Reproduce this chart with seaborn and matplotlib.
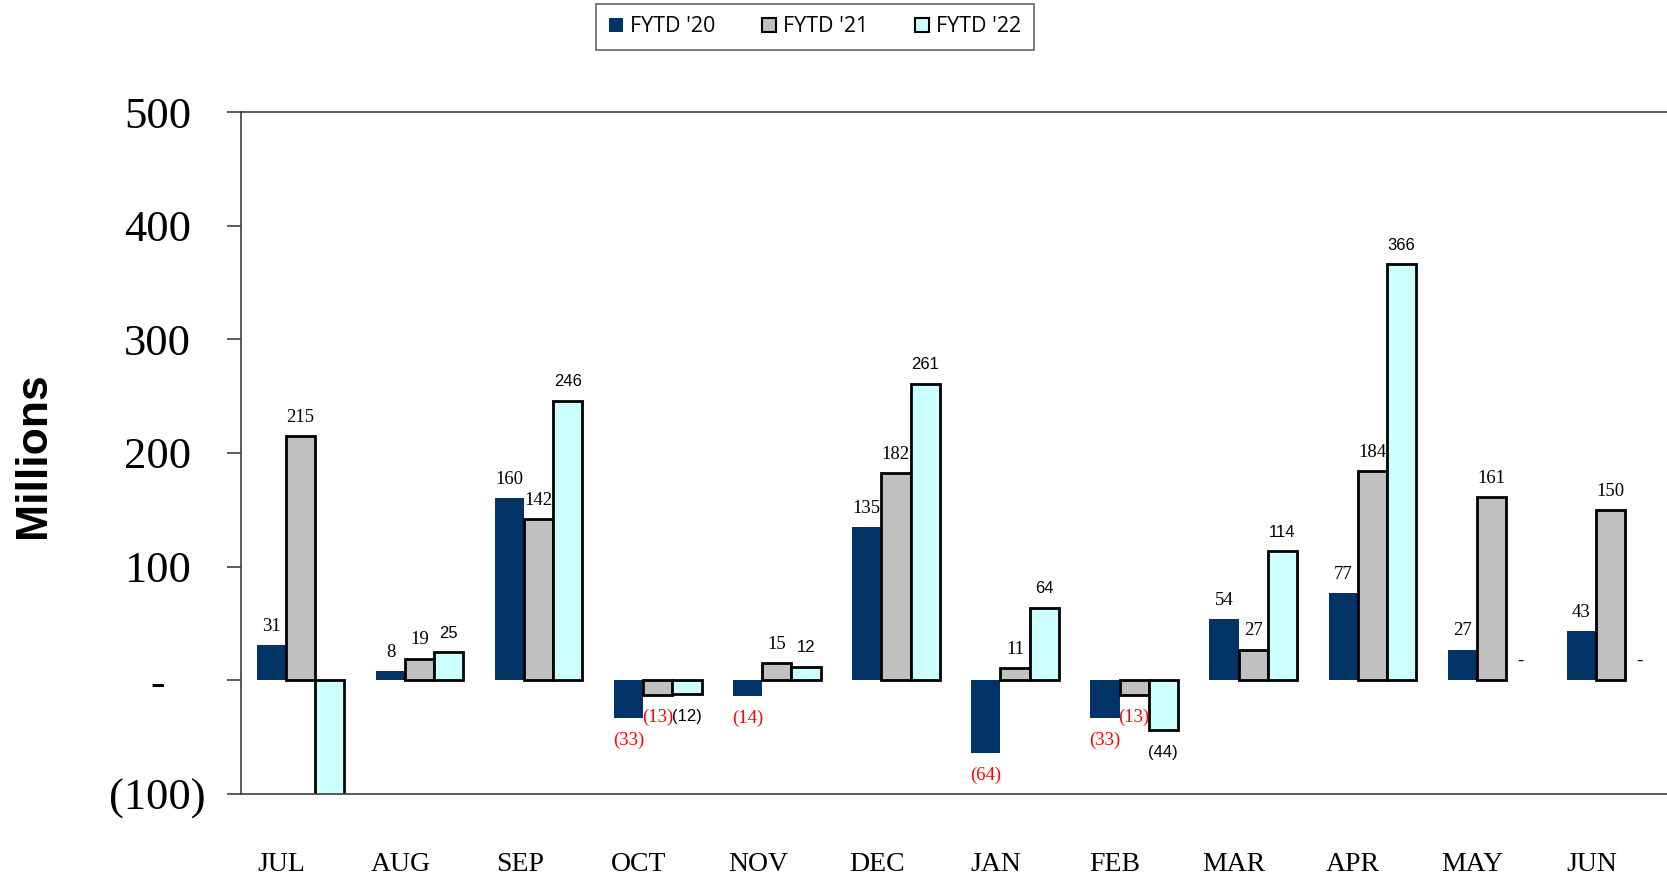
import matplotlib
matplotlib.use("Agg")
import matplotlib.pyplot as plt
from matplotlib.patches import Patch
import seaborn as sns
import pandas as pd
import numpy as np

months = ["JUL", "AUG", "SEP", "OCT", "NOV", "DEC", "JAN", "FEB", "MAR", "APR", "MAY", "JUN"]
series = ["FYTD '20", "FYTD '21", "FYTD '22"]
fytd20 = [31, 8, 160, -33, -14, 135, -64, -33, 54, 77, 27, 43]
fytd21 = [215, 19, 142, -13, 15, 182, 11, -13, 27, 184, 161, 150]
fytd22 = [-130, 25, 246, -12, 12, 261, 64, -44, 114, 366, 0, 0]  # JUL is cut off below -100
colors = ["#003366", "#C0C0C0", "#CCFFFF"]

ytick_vals = [-100, 0, 100, 200, 300, 400, 500]
ytick_text = ["(100)", "-", "100", "200", "300", "400", "500"]

df = pd.DataFrame({
    "month": months * 3,
    "series": [s for s in series for _ in months],
    "value": fytd20 + fytd21 + fytd22,
})

sns.set_style("white")
plt.rcParams["font.family"] = ["Liberation Serif", "DejaVu Serif"]
plt.rcParams["text.color"] = "black"
plt.rcParams["xtick.color"] = "black"
plt.rcParams["ytick.color"] = "black"

fig = plt.figure(figsize=(16.67, 8.76), dpi=100)
ax = fig.add_axes([241 / 1667, 82 / 876, (1670 - 241) / 1667, 682 / 876])

bw = 0.245
sns.barplot(data=df, x="month", y="value", hue="series", order=months, hue_order=series,
            palette=colors, saturation=1, width=bw * 3, edgecolor="black", linewidth=2,
            ax=ax, legend=False)

# navy bars have no outline, zero bars are not drawn
for bar in ax.containers[0]:
    bar.set_linewidth(0)
for cont in ax.containers:
    for bar in cont:
        if bar.get_height() == 0:
            bar.set_visible(False)

ax.set_ylim(-100, 500)
ax.set_xlim(-0.5, 11.5)
ax.set_xlabel("")
ax.set_ylabel("")

for side in ["left", "top", "bottom", "right"]:
    ax.spines[side].set_color("#404040")
    ax.spines[side].set_linewidth(1.2)

ax.set_yticks(ytick_vals)
ax.set_yticklabels(ytick_text, fontsize=32, fontfamily="Liberation Serif", color="black")
ax.tick_params(axis="y", direction="out", length=10, width=1.2, color="#404040", pad=50, left=True)
for lbl in ax.get_yticklabels():
    lbl.set_horizontalalignment("center")

ax.set_xticks(np.arange(12) - 0.16)
ax.set_xticklabels(months, fontsize=20, fontfamily="Liberation Serif", color="black")
ax.tick_params(axis="x", length=0, pad=42)


def fmt(v):
    if v == 0:
        return "-"
    if v < 0:
        return "(%d)" % (-v)
    return str(v)


for si, vals in enumerate([fytd20, fytd21, fytd22]):
    for i, v in enumerate(vals):
        if v < -100:
            continue
        x = i + (si - 1) * bw
        off = -16 if v < 0 else 13.5
        col = "red" if (v < 0 and si < 2) else "black"
        if si == 2 and v != 0:
            fam, sz = "Liberation Sans", 12
        else:
            fam, sz = "Liberation Serif", 13.5
        ax.annotate(fmt(v), (x, v), xytext=(0, off), textcoords="offset points",
                    ha="center", va="center", color=col, fontsize=sz, fontfamily=fam)

fig.text(34 / 1667, 1 - 455 / 876, "Millions", rotation=90, ha="center", va="center",
         fontsize=32, fontweight="bold", fontfamily="Liberation Sans", color="black")

handles = [
    Patch(facecolor=colors[0], edgecolor="none"),
    Patch(facecolor=colors[1], edgecolor="black", linewidth=1.5),
    Patch(facecolor=colors[2], edgecolor="black", linewidth=1.5),
]
leg = fig.legend(handles, series, loc="center", bbox_to_anchor=(815 / 1667, 1 - 27 / 876),
                 ncol=3, frameon=True, fancybox=False, edgecolor="#404040",
                 prop={"family": "Open Sans", "size": 15.5},
                 handlelength=0.65, handleheight=0.65, handletextpad=0.3,
                 columnspacing=2.2, borderpad=0.6, borderaxespad=0)
leg.get_frame().set_linewidth(1.2)

fig.savefig("out.png", dpi=100)
